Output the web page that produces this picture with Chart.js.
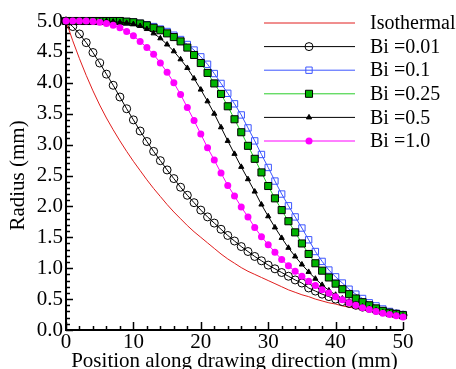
<!DOCTYPE html>
<html>
<head>
<meta charset="utf-8">
<script src="https://cdn.jsdelivr.net/npm/chart.js@4.4.1/dist/chart.umd.min.js"></script>
<style>
  html, body { margin: 0; padding: 0; background: #fff; }
  canvas { display: block; }
</style>
</head>
<body>
<canvas id="radiusChart" width="456" height="369"></canvas>
<script>
// position along drawing direction (mm)
const positions = [0, 1, 2, 3, 4, 5, 6, 7, 8, 9, 10, 11, 12, 13, 14, 15, 16, 17, 18, 19, 20,
  21, 22, 23, 24, 25, 26, 27, 28, 29, 30, 31, 32, 33, 34, 35, 36, 37, 38, 39, 40,
  41, 42, 43, 44, 45, 46, 47, 48, 49, 50];

// radius (mm)
const isothermal = [5.00, 4.68, 4.39, 4.12, 3.87, 3.64, 3.43, 3.24, 3.06, 2.89, 2.73,
  2.58, 2.43, 2.29, 2.16, 2.03, 1.91, 1.80, 1.69, 1.59, 1.50,
  1.41, 1.32, 1.23, 1.15, 1.08, 1.01, 0.95, 0.90, 0.85, 0.80,
  0.75, 0.70, 0.65, 0.61, 0.57, 0.54, 0.50, 0.47, 0.44, 0.42,
  0.39, 0.37, 0.35, 0.33, 0.31, 0.29, 0.27, 0.25, 0.24, 0.22];
const bi001 = [5.00, 4.91, 4.79, 4.65, 4.49, 4.32, 4.14, 3.96, 3.77, 3.58, 3.40,
  3.22, 3.05, 2.89, 2.74, 2.59, 2.45, 2.31, 2.18, 2.06, 1.94,
  1.83, 1.73, 1.63, 1.53, 1.44, 1.35, 1.27, 1.19, 1.12, 1.05,
  0.99, 0.93, 0.87, 0.81, 0.76, 0.68, 0.63, 0.58, 0.54, 0.50,
  0.46, 0.43, 0.40, 0.37, 0.35, 0.32, 0.30, 0.28, 0.26, 0.24];
const bi01 = [5.00, 5.00, 5.00, 5.00, 5.00, 5.00, 5.00, 5.00, 5.00, 4.99, 4.98,
  4.96, 4.94, 4.91, 4.87, 4.83, 4.77, 4.70, 4.62, 4.53, 4.42,
  4.30, 4.15, 3.99, 3.83, 3.66, 3.48, 3.27, 3.06, 2.84, 2.63,
  2.41, 2.20, 2.01, 1.83, 1.65, 1.46, 1.27, 1.11, 0.97, 0.86,
  0.76, 0.66, 0.58, 0.51, 0.44, 0.39, 0.34, 0.30, 0.27, 0.25];
const bi025 = [5.00, 5.00, 5.00, 5.00, 5.00, 5.00, 5.00, 5.00, 5.00, 4.99, 4.98,
  4.96, 4.93, 4.89, 4.85, 4.80, 4.74, 4.67, 4.57, 4.45, 4.32,
  4.16, 3.99, 3.82, 3.62, 3.41, 3.20, 2.98, 2.77, 2.55, 2.33,
  2.13, 1.94, 1.76, 1.58, 1.40, 1.23, 1.08, 0.96, 0.85, 0.75,
  0.66, 0.58, 0.51, 0.45, 0.40, 0.35, 0.31, 0.28, 0.26, 0.24];
const bi05 = [5.00, 5.00, 5.00, 5.00, 5.00, 5.00, 5.00, 4.99, 4.98, 4.97, 4.95,
  4.92, 4.87, 4.80, 4.72, 4.62, 4.51, 4.38, 4.24, 4.07, 3.89,
  3.70, 3.50, 3.28, 3.06, 2.85, 2.64, 2.44, 2.24, 2.03, 1.84,
  1.66, 1.49, 1.33, 1.19, 1.06, 0.94, 0.83, 0.73, 0.64, 0.57,
  0.51, 0.46, 0.42, 0.38, 0.35, 0.32, 0.29, 0.27, 0.25, 0.23];
const bi10 = [5.00, 5.00, 5.00, 5.00, 4.99, 4.98, 4.96, 4.93, 4.89, 4.83, 4.76,
  4.67, 4.57, 4.46, 4.32, 4.17, 4.00, 3.81, 3.60, 3.39, 3.17,
  2.95, 2.75, 2.54, 2.34, 2.17, 1.99, 1.83, 1.66, 1.51, 1.38,
  1.26, 1.14, 1.04, 0.95, 0.87, 0.79, 0.72, 0.65, 0.60, 0.54,
  0.49, 0.44, 0.40, 0.36, 0.33, 0.30, 0.27, 0.25, 0.23, 0.21];

const seriesLabels = ['Isothermal', 'Bi =0.01', 'Bi =0.1', 'Bi =0.25', 'Bi =0.5', 'Bi =1.0'];

const FONT = "'Liberation Serif', 'Times New Roman', serif";

function toPoints(values) {
  return positions.map((x, i) => ({x: x, y: values[i]}));
}

// inward tick marks + black axis lines, like the original plot
const axesPlugin = {
  id: 'innerAxes',
  beforeDatasetsDraw(chart) {
    const {ctx, chartArea: {left, right, top, bottom}, scales: {x, y}} = chart;
    ctx.save();
    ctx.strokeStyle = '#000';
    ctx.lineWidth = 1.5;
    ctx.beginPath();
    for (let v = 0; v <= 50; v += 2) {
      const px = Math.round(x.getPixelForValue(v)) + 0.5;
      const len = v % 10 === 0 ? 8 : 4;
      ctx.moveTo(px, bottom);
      ctx.lineTo(px, bottom - len);
    }
    for (let i = 0; i <= 50; i++) {
      const py = Math.round(y.getPixelForValue(i / 10)) + 0.5;
      const len = i % 5 === 0 ? 7 : 4;
      ctx.moveTo(left, py);
      ctx.lineTo(left + len, py);
    }
    ctx.stroke();

    ctx.lineWidth = 2;
    ctx.beginPath();
    ctx.moveTo(left, top);
    ctx.lineTo(left, bottom);
    ctx.lineTo(right, bottom);
    ctx.stroke();
    ctx.restore();
  }
};

// legend in the upper right: line sample, marker, label
const legendPlugin = {
  id: 'sampleLegend',
  afterDraw(chart) {
    const {ctx} = chart;
    ctx.save();
    chart.data.datasets.forEach((ds, i) => {
      const rowY = 23 + i * 23.6;
      ctx.strokeStyle = ds.borderColor;
      ctx.lineWidth = 1;
      ctx.beginPath();
      ctx.moveTo(264, rowY);
      ctx.lineTo(355, rowY);
      ctx.stroke();
      if (ds.pointRadius > 0) {
        ctx.fillStyle = ds.pointBackgroundColor;
        ctx.strokeStyle = ds.pointBorderColor;
        ctx.lineWidth = ds.pointBorderWidth;
        Chart.helpers.drawPoint(ctx, {
          pointStyle: ds.pointStyle,
          radius: ds.pointRadius,
          rotation: 0,
          borderWidth: ds.pointBorderWidth
        }, 309, rowY);
      }
      ctx.fillStyle = '#000';
      ctx.font = '20px ' + FONT;
      ctx.textAlign = 'left';
      ctx.textBaseline = 'middle';
      ctx.fillText(ds.label, 370, rowY + 1);
    });
    ctx.restore();
  }
};

const whiteBackground = {
  id: 'whiteBackground',
  beforeDraw(chart) {
    const {ctx, width, height} = chart;
    ctx.save();
    ctx.fillStyle = '#fff';
    ctx.fillRect(0, 0, width, height);
    ctx.restore();
  }
};

const ctx = document.getElementById('radiusChart').getContext('2d');

new Chart(ctx, {
  type: 'line',
  plugins: [whiteBackground, axesPlugin, legendPlugin],
  data: {
    datasets: [
      {
        label: seriesLabels[0],
        data: toPoints(isothermal),
        borderColor: 'rgb(225, 30, 30)',
        borderWidth: 1,
        pointRadius: 0,
        order: 6
      },
      {
        label: seriesLabels[1],
        data: toPoints(bi001),
        borderColor: '#000',
        borderWidth: 1,
        pointStyle: 'circle',
        pointRadius: 4,
        pointBorderWidth: 1,
        pointBorderColor: '#000',
        pointBackgroundColor: 'rgba(0,0,0,0)',
        order: 5
      },
      {
        label: seriesLabels[2],
        data: toPoints(bi01),
        borderColor: 'rgb(60, 85, 255)',
        borderWidth: 1,
        pointStyle: 'rect',
        pointRadius: 4.5,
        pointBorderWidth: 1,
        pointBorderColor: 'rgb(60, 85, 255)',
        pointBackgroundColor: 'rgba(0,0,0,0)',
        order: 4
      },
      {
        label: seriesLabels[3],
        data: toPoints(bi025),
        borderColor: 'rgb(40, 205, 40)',
        borderWidth: 1,
        pointStyle: 'rect',
        pointRadius: 5,
        pointBorderWidth: 1,
        pointBorderColor: '#000',
        pointBackgroundColor: 'rgb(0, 180, 0)',
        order: 3
      },
      {
        label: seriesLabels[4],
        data: toPoints(bi05),
        borderColor: '#000',
        borderWidth: 1,
        pointStyle: 'triangle',
        pointRadius: 3,
        pointBorderWidth: 1,
        pointBorderColor: '#000',
        pointBackgroundColor: '#000',
        order: 2
      },
      {
        label: seriesLabels[5],
        data: toPoints(bi10),
        borderColor: 'rgb(255, 0, 255)',
        borderWidth: 1,
        pointStyle: 'circle',
        pointRadius: 3.5,
        pointBorderWidth: 0,
        pointBorderColor: 'rgb(255, 0, 255)',
        pointBackgroundColor: 'rgb(255, 0, 255)',
        order: 1
      }
    ]
  },
  options: {
    responsive: false,
    animation: false,
    clip: false,
    layout: {
      padding: {top: 21, right: 53, left: 0, bottom: 0}
    },
    plugins: {
      legend: {display: false},
      tooltip: {enabled: false}
    },
    scales: {
      x: {
        type: 'linear',
        min: 0,
        max: 50,
        grid: {display: false, drawTicks: false},
        border: {display: false},
        ticks: {
          stepSize: 10,
          padding: 0,
          color: '#000',
          maxRotation: 0,
          font: {family: FONT, size: 21}
        },
        title: {
          display: true,
          text: 'Position along drawing direction (mm)',
          color: '#000',
          padding: 0,
          font: {family: FONT, size: 21, lineHeight: 0.7}
        },
        afterFit(scale) { scale.height = 39; }
      },
      y: {
        min: 0,
        max: 5,
        grid: {display: false, drawTicks: false},
        border: {display: false},
        ticks: {
          stepSize: 0.5,
          padding: 3,
          color: '#000',
          font: {family: FONT, size: 21},
          callback: value => value.toFixed(1)
        },
        title: {
          display: true,
          text: 'Radius (mm)',
          color: '#000',
          padding: {top: 8, bottom: 0},
          font: {family: FONT, size: 21, lineHeight: 1}
        },
        afterFit(scale) { scale.width = 66; }
      }
    }
  }
});
</script>
</body>
</html>
